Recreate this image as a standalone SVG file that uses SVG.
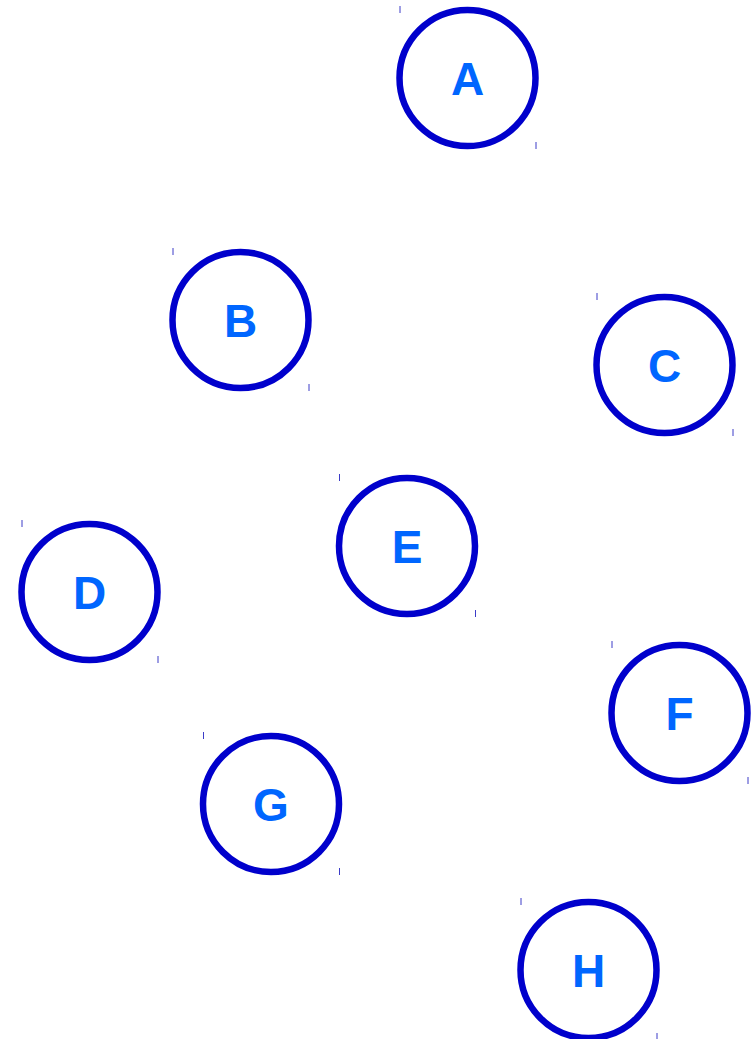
<svg xmlns="http://www.w3.org/2000/svg" width="753" height="1039" viewBox="0 0 753 1039">
<style>
.c{fill:#fff;stroke:#0000cc;stroke-width:6.5}
.t{font-family:"Liberation Sans",Arial,sans-serif;font-weight:bold;font-size:46px;fill:#0066ff;text-anchor:middle}
.k{stroke:#3c3cc8;stroke-width:1}
</style>
<rect width="753" height="1039" fill="#fff"/>
<g id="connectors"></g>
<g id="A"><circle class="c" cx="467.5" cy="78" r="68"/><text class="t" x="467.5" y="95">A</text><line class="k" x1="400" y1="6" x2="400" y2="13"/><line class="k" x1="536" y1="142" x2="536" y2="149"/></g>
<g id="B"><circle class="c" cx="240.5" cy="320" r="68"/><text class="t" x="240.5" y="337">B</text><line class="k" x1="173" y1="248" x2="173" y2="255"/><line class="k" x1="309" y1="384" x2="309" y2="391"/></g>
<g id="C"><circle class="c" cx="664.5" cy="365" r="68"/><text class="t" x="664.5" y="382">C</text><line class="k" x1="597" y1="293" x2="597" y2="300"/><line class="k" x1="733" y1="429" x2="733" y2="436"/></g>
<g id="D"><circle class="c" cx="89.5" cy="592" r="68"/><text class="t" x="89.5" y="609">D</text><line class="k" x1="22" y1="520" x2="22" y2="527"/><line class="k" x1="158" y1="656" x2="158" y2="663"/></g>
<g id="E"><circle class="c" cx="407" cy="546" r="68"/><text class="t" x="407" y="563">E</text><line class="k" x1="339.5" y1="474" x2="339.5" y2="481"/><line class="k" x1="475.5" y1="610" x2="475.5" y2="617"/></g>
<g id="F"><circle class="c" cx="679.5" cy="713" r="68"/><text class="t" x="679.5" y="730">F</text><line class="k" x1="612" y1="641" x2="612" y2="648"/><line class="k" x1="748" y1="777" x2="748" y2="784"/></g>
<g id="G"><circle class="c" cx="271" cy="804" r="68"/><text class="t" x="271" y="821">G</text><line class="k" x1="203.5" y1="732" x2="203.5" y2="739"/><line class="k" x1="339.5" y1="868" x2="339.5" y2="875"/></g>
<g id="H"><circle class="c" cx="588.5" cy="970" r="68"/><text class="t" x="588.5" y="987">H</text><line class="k" x1="521" y1="898" x2="521" y2="905"/><line class="k" x1="657" y1="1033" x2="657" y2="1039"/></g>
</svg>
